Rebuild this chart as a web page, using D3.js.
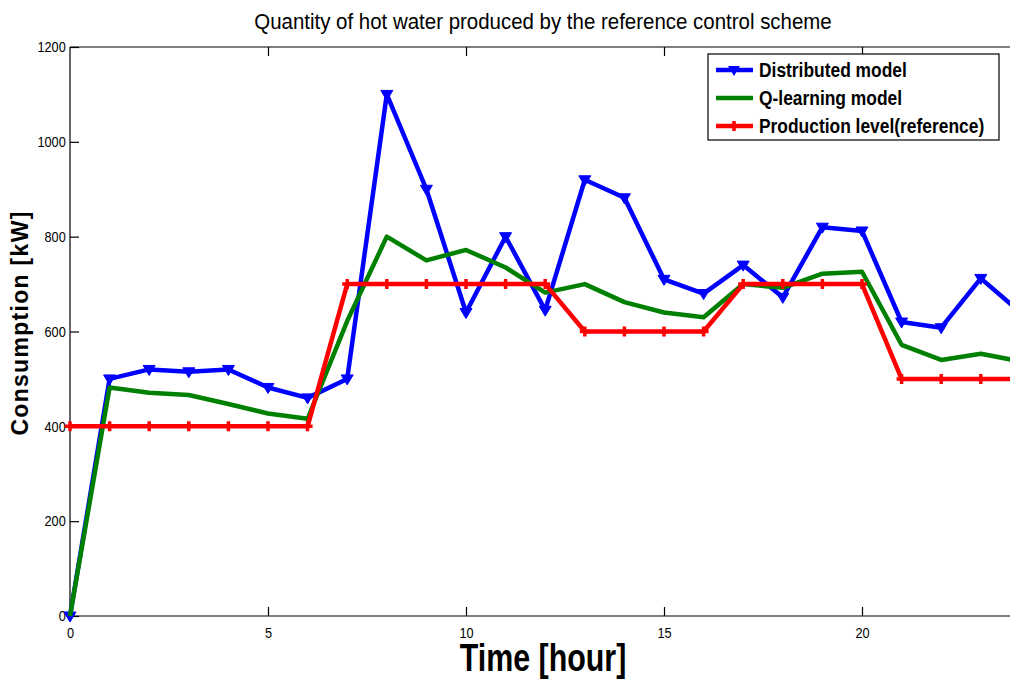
<!DOCTYPE html>
<html lang="en">
<head>
  <meta charset="UTF-8">
  <title>Quantity of hot water</title>
  <style>
    body { margin: 0; background: #fff; }
    svg { display: block; }
    text { font-family: "Liberation Sans", Arial, sans-serif; }
  </style>
</head>
<body>
  <svg id="chart" width="1010" height="680"></svg>

  <script src="https://cdnjs.cloudflare.com/ajax/libs/d3/7.8.5/d3.min.js"></script>
  <script>
    // data
    var hours = d3.range(0, 25);
    var distributed = [0, 500, 520, 515, 520, 482, 460, 500, 1100, 900, 640, 800, 645, 920, 882, 710, 680, 740, 672, 820, 812, 620, 608, 712, 640];
    var qlearning = [0, 482, 471, 466, 447, 427, 416, 622, 800, 750, 772, 735, 682, 700, 662, 640, 630, 700, 692, 722, 726, 572, 540, 553, 537];
    var production = [400, 400, 400, 400, 400, 400, 400, 700, 700, 700, 700, 700, 700, 600, 600, 600, 600, 700, 700, 700, 700, 500, 500, 500, 500];
    var xTicks = [0, 5, 10, 15, 20];
    var yTicks = [0, 200, 400, 600, 800, 1000, 1200];

    var series = [
      { name: "Distributed model", values: distributed, color: "#0000ff", marker: "tri" },
      { name: "Q-learning model", values: qlearning, color: "#008000", marker: "none" },
      { name: "Production level(reference)", values: production, color: "#ff0000", marker: "plus" }
    ];

    var svg = d3.select("#chart"),
      mLeft = 70, mTop = 47, mBottom = 616,
      narrow = 0.85, // squeeze to look like the narrow font of the original
      x = d3.scaleLinear().domain([0, 24]).range([mLeft, mLeft + 24 * 39.6]),
      y = d3.scaleLinear().domain([0, 1200]).range([mBottom, mTop]);

    svg.append("clipPath").attr("id", "clip")
      .append("rect").attr("x", 0).attr("y", 0).attr("width", 1010).attr("height", 640);

    // title
    svg.append("text")
      .attr("transform", "translate(543,29) scale(0.93,1)")
      .attr("text-anchor", "middle")
      .style("font-size", "22px")
      .text("Quantity of hot water produced by the reference control scheme");

    // axes box
    var box = svg.append("g").attr("stroke", "#000").attr("stroke-width", 1.2);
    box.append("line").attr("x1", mLeft).attr("x2", mLeft).attr("y1", mTop).attr("y2", mBottom);
    box.append("line").attr("x1", mLeft).attr("x2", 1010).attr("y1", mBottom).attr("y2", mBottom);
    box.append("line").attr("x1", mLeft).attr("x2", 1010).attr("y1", mTop).attr("y2", mTop);

    // ticks point inward like matlab
    var xAxis = d3.axisBottom(x).tickValues(xTicks).tickSizeInner(-9).tickSizeOuter(0).tickPadding(11);
    var gx = svg.append("g").attr("transform", "translate(0," + mBottom + ")").call(xAxis);
    gx.select(".domain").remove();
    gx.selectAll("text").style("font-size", "15px").attr("fill", "#000")
      .attr("transform", "scale(" + narrow + ",1)");

    var xTop = d3.axisTop(x).tickValues(xTicks.slice(1)).tickSizeInner(-9).tickSizeOuter(0).tickFormat("");
    var gxt = svg.append("g").attr("transform", "translate(0," + mTop + ")").call(xTop);
    gxt.select(".domain").remove();

    var yAxis = d3.axisLeft(y).tickValues(yTicks).tickSizeInner(-9).tickSizeOuter(0).tickPadding(5).tickFormat(d3.format("d"));
    var gy = svg.append("g").attr("transform", "translate(" + mLeft + ",0)").call(yAxis);
    gy.select(".domain").remove();
    gy.selectAll("text").style("font-size", "15px").attr("fill", "#000")
      .attr("transform", "scale(" + narrow + ",1)");
    gx.selectAll("line").attr("stroke-width", 1.2);
    gy.selectAll("line").attr("stroke-width", 1.2);
    gxt.selectAll("line").attr("stroke-width", 1.2);

    // axis labels
    svg.append("text")
      .attr("transform", "translate(543,671) scale(0.8,1)")
      .attr("text-anchor", "middle")
      .style("font-size", "38px").style("font-weight", "bold")
      .text("Time [hour]");

    svg.append("text")
      .attr("transform", "translate(28,323) rotate(-90)")
      .attr("text-anchor", "middle")
      .style("font-size", "23px").style("font-weight", "bold")
      .style("letter-spacing", "1.3px")
      .text("Consumption [kW]");

    // lines
    var line = d3.line()
      .x(function(d, i) { return x(hours[i]); })
      .y(function(d) { return y(d); });

    var plot = svg.append("g").attr("clip-path", "url(#clip)");

    var triPath = "M-6,-4L6,-4L0,6Z";
    var plusPath = "M-5,0L5,0M0,-5L0,5";

    series.forEach(function(s) {
      plot.append("path")
        .datum(s.values)
        .attr("fill", "none")
        .attr("stroke", s.color)
        .attr("stroke-width", 4.5)
        .attr("stroke-linejoin", "round")
        .attr("d", line);

      if (s.marker == "tri") {
        plot.selectAll(null).data(s.values).enter().append("path")
          .attr("transform", function(d, i) { return "translate(" + x(hours[i]) + "," + y(d) + ")"; })
          .attr("d", triPath)
          .attr("fill", s.color).attr("stroke", s.color).attr("stroke-width", 1);
      } else if (s.marker == "plus") {
        plot.selectAll(null).data(s.values).enter().append("path")
          .attr("transform", function(d, i) { return "translate(" + x(hours[i]) + "," + y(d) + ")"; })
          .attr("d", plusPath)
          .attr("fill", "none").attr("stroke", s.color).attr("stroke-width", 3.5);
      }
    });

    // legend
    var lg = svg.append("g");
    lg.append("rect")
      .attr("x", 708).attr("y", 54).attr("width", 291).attr("height", 86)
      .attr("fill", "#fff").attr("stroke", "#000").attr("stroke-width", 1.2);

    series.forEach(function(s, i) {
      var ly = 70 + i * 28;
      lg.append("line")
        .attr("x1", 716).attr("x2", 753).attr("y1", ly).attr("y2", ly)
        .attr("stroke", s.color).attr("stroke-width", 4.5);
      if (s.marker == "tri") {
        lg.append("path").attr("transform", "translate(734," + ly + ")").attr("d", triPath).attr("fill", s.color);
      } else if (s.marker == "plus") {
        lg.append("path").attr("transform", "translate(734," + ly + ")").attr("d", plusPath)
          .attr("stroke", s.color).attr("stroke-width", 3.5);
      }
      lg.append("text")
        .attr("transform", "translate(759," + (ly + 7) + ") scale(0.87,1)")
        .style("font-size", "20px").style("font-weight", "bold")
        .text(s.name);
    });
  </script>
</body>
</html>
